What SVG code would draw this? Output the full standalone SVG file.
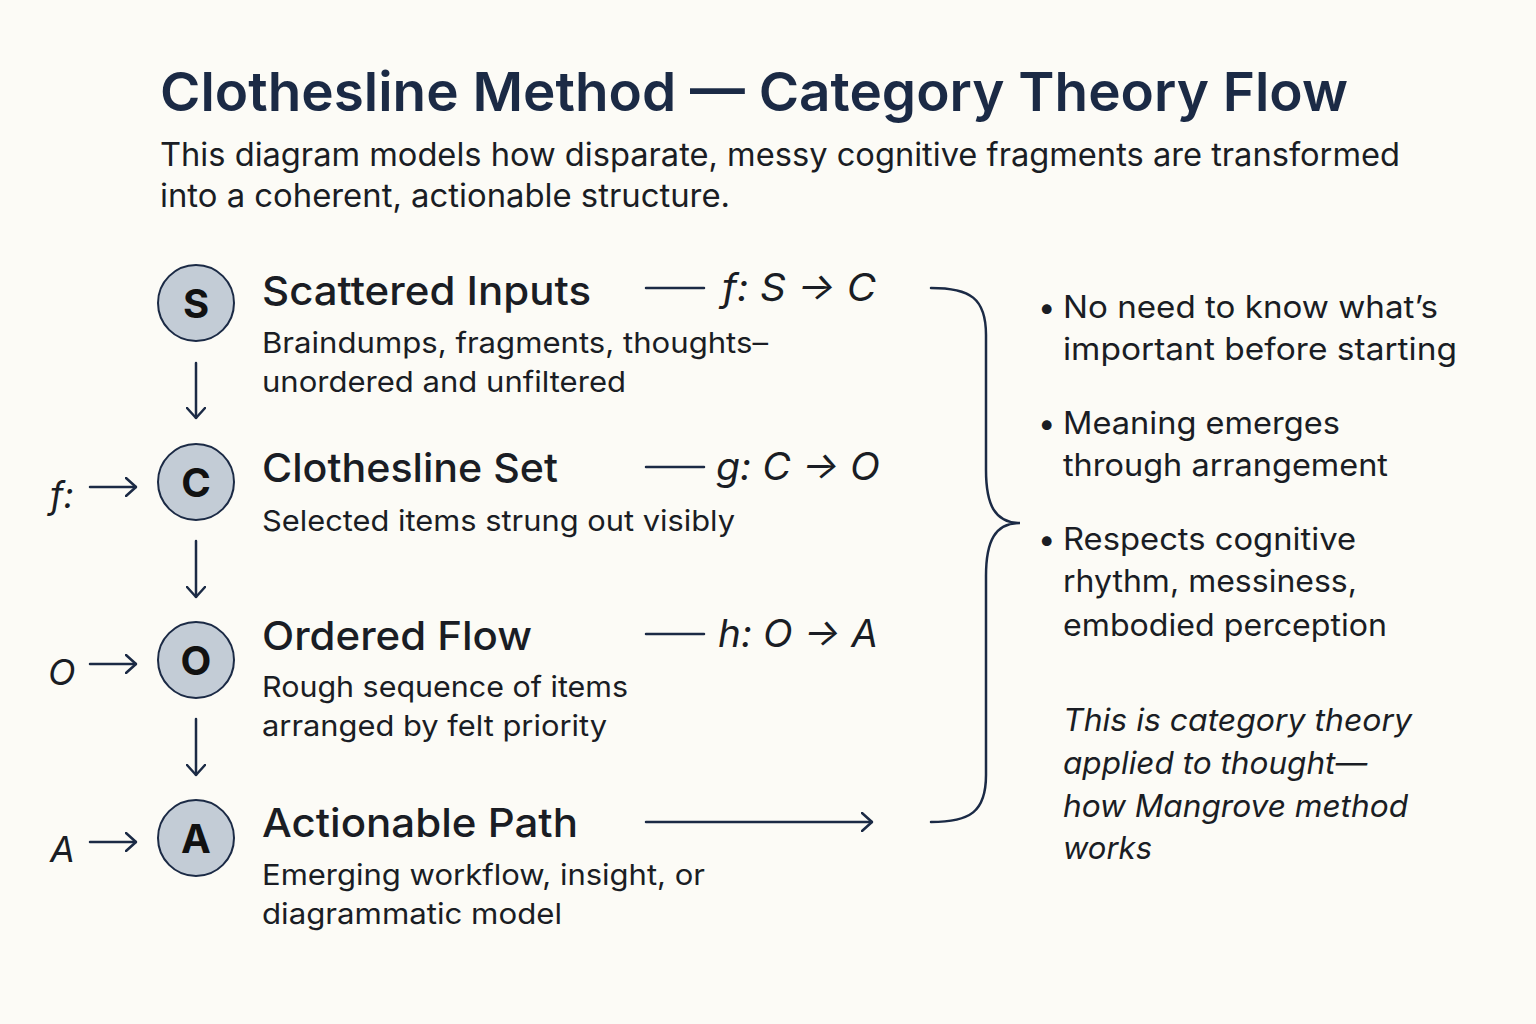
<svg xmlns="http://www.w3.org/2000/svg" width="1536" height="1024" viewBox="0 0 1536 1024">
<defs>
<style>
.t{font-family:Inter,"Liberation Sans",sans-serif;fill:#1a1d24}
.title{font-size:54px;font-weight:600;fill:#1b2a45}
.sub{font-size:32px}
.h{font-size:40px;font-weight:500}
.d{font-size:29px}
.b{font-size:31px}
.i{font-style:italic}
.m{font-size:38px;font-style:italic}
.lt{font-size:36px;font-style:italic}
.node circle{fill:#c3ccd6;stroke:#1b2a45;stroke-width:2}
.node .l{font-size:40px;font-weight:700;text-anchor:middle;fill:#111}
.ln{stroke:#1b2a45;stroke-width:2.5;fill:none;stroke-linecap:round}
</style>
<marker id="ah" viewBox="0 0 12 20" refX="11" refY="10" markerWidth="12" markerHeight="20" markerUnits="userSpaceOnUse" orient="auto">
<path d="M1,1 L11,10 L1,19" fill="none" stroke="#1b2a45" stroke-width="2.5" stroke-linecap="round" stroke-linejoin="round"/>
</marker>
</defs>
<rect width="1536" height="1024" fill="#fcfbf6"/>
<text class="t title" x="160" y="111" textLength="1188" lengthAdjust="spacingAndGlyphs">Clothesline Method — Category Theory Flow</text>
<text class="t sub" x="160" y="166" textLength="1240" lengthAdjust="spacingAndGlyphs">This diagram models how disparate, messy cognitive fragments are transformed</text>
<text class="t sub" x="160" y="207" textLength="570" lengthAdjust="spacingAndGlyphs">into a coherent, actionable structure.</text>

<g id="node-S" class="node">
<circle cx="196" cy="303" r="38"/>
<text class="t l" x="196" y="318">S</text>
<text class="t h" x="262" y="305" textLength="329" lengthAdjust="spacingAndGlyphs">Scattered Inputs</text>
<text class="t d" x="262" y="353" textLength="506" lengthAdjust="spacingAndGlyphs">Braindumps, fragments, thoughts–</text>
<text class="t d" x="262" y="392" textLength="364" lengthAdjust="spacingAndGlyphs">unordered and unfiltered</text>
</g>
<g id="node-C" class="node">
<circle cx="196" cy="482" r="38"/>
<text class="t l" x="196" y="497">C</text>
<text class="t h" x="262" y="482" textLength="296" lengthAdjust="spacingAndGlyphs">Clothesline Set</text>
<text class="t d" x="262" y="531" textLength="473" lengthAdjust="spacingAndGlyphs">Selected items strung out visibly</text>
</g>
<g id="node-O" class="node">
<circle cx="196" cy="660" r="38"/>
<text class="t l" x="196" y="675">O</text>
<text class="t h" x="262" y="650" textLength="270" lengthAdjust="spacingAndGlyphs">Ordered Flow</text>
<text class="t d" x="262" y="697" textLength="366" lengthAdjust="spacingAndGlyphs">Rough sequence of items</text>
<text class="t d" x="262" y="736" textLength="345" lengthAdjust="spacingAndGlyphs">arranged by felt priority</text>
</g>
<g id="node-A" class="node">
<circle cx="196" cy="838" r="38"/>
<text class="t l" x="196" y="853">A</text>
<text class="t h" x="262" y="837" textLength="316" lengthAdjust="spacingAndGlyphs">Actionable Path</text>
<text class="t d" x="262" y="885" textLength="443" lengthAdjust="spacingAndGlyphs">Emerging workflow, insight, or</text>
<text class="t d" x="262" y="924" textLength="300" lengthAdjust="spacingAndGlyphs">diagrammatic model</text>
</g>

<g id="labels-left">
<text class="t lt" x="50" y="508">f:</text>
<text class="t lt" x="48" y="685">O</text>
<text class="t lt" x="50" y="862">A</text>
</g>
<g id="morphisms">
<text class="t m" x="722" y="301" textLength="154" lengthAdjust="spacingAndGlyphs">f: S → C</text>
<text class="t m" x="716" y="480" textLength="164" lengthAdjust="spacingAndGlyphs">g: C → O</text>
<text class="t m" x="718" y="647" textLength="160" lengthAdjust="spacingAndGlyphs">h: O → A</text>
</g>

<g id="connectors">
<line class="ln" x1="196" y1="363" x2="196" y2="418" marker-end="url(#ah)"/>
<line class="ln" x1="196" y1="541" x2="196" y2="597" marker-end="url(#ah)"/>
<line class="ln" x1="196" y1="719" x2="196" y2="775" marker-end="url(#ah)"/>
<line class="ln" x1="90" y1="487" x2="136" y2="487" marker-end="url(#ah)"/>
<line class="ln" x1="90" y1="664" x2="136" y2="664" marker-end="url(#ah)"/>
<line class="ln" x1="90" y1="842" x2="136" y2="842" marker-end="url(#ah)"/>
<line class="ln" x1="646" y1="288" x2="704" y2="288"/>
<line class="ln" x1="646" y1="467" x2="704" y2="467"/>
<line class="ln" x1="646" y1="634" x2="704" y2="634"/>
<line class="ln" x1="646" y1="822" x2="872" y2="822" marker-end="url(#ah)"/>
<path class="ln" d="M931,288 C970,288 986,298 986,335 L986,470 C986,505 995,523 1020,523 C995,523 986,541 986,576 L986,775 C986,812 970,822 931,822"/>
</g>

<g id="notes">
<text class="t b" x="1038" y="318">•</text>
<text class="t b" x="1063" y="318" textLength="375" lengthAdjust="spacingAndGlyphs">No need to know what’s</text>
<text class="t b" x="1063" y="360" textLength="394" lengthAdjust="spacingAndGlyphs">important before starting</text>
<text class="t b" x="1038" y="434">•</text>
<text class="t b" x="1063" y="434" textLength="277" lengthAdjust="spacingAndGlyphs">Meaning emerges</text>
<text class="t b" x="1063" y="476" textLength="325" lengthAdjust="spacingAndGlyphs">through arrangement</text>
<text class="t b" x="1038" y="550">•</text>
<text class="t b" x="1063" y="550" textLength="293" lengthAdjust="spacingAndGlyphs">Respects cognitive</text>
<text class="t b" x="1063" y="592" textLength="294" lengthAdjust="spacingAndGlyphs">rhythm, messiness,</text>
<text class="t b" x="1063" y="636" textLength="324" lengthAdjust="spacingAndGlyphs">embodied perception</text>
<text class="t b i" x="1063" y="731" textLength="349" lengthAdjust="spacingAndGlyphs">This is category theory</text>
<text class="t b i" x="1063" y="774" textLength="304" lengthAdjust="spacingAndGlyphs">applied to thought—</text>
<text class="t b i" x="1063" y="817" textLength="345" lengthAdjust="spacingAndGlyphs">how Mangrove method</text>
<text class="t b i" x="1063" y="859" textLength="89" lengthAdjust="spacingAndGlyphs">works</text>
</g>
</svg>
